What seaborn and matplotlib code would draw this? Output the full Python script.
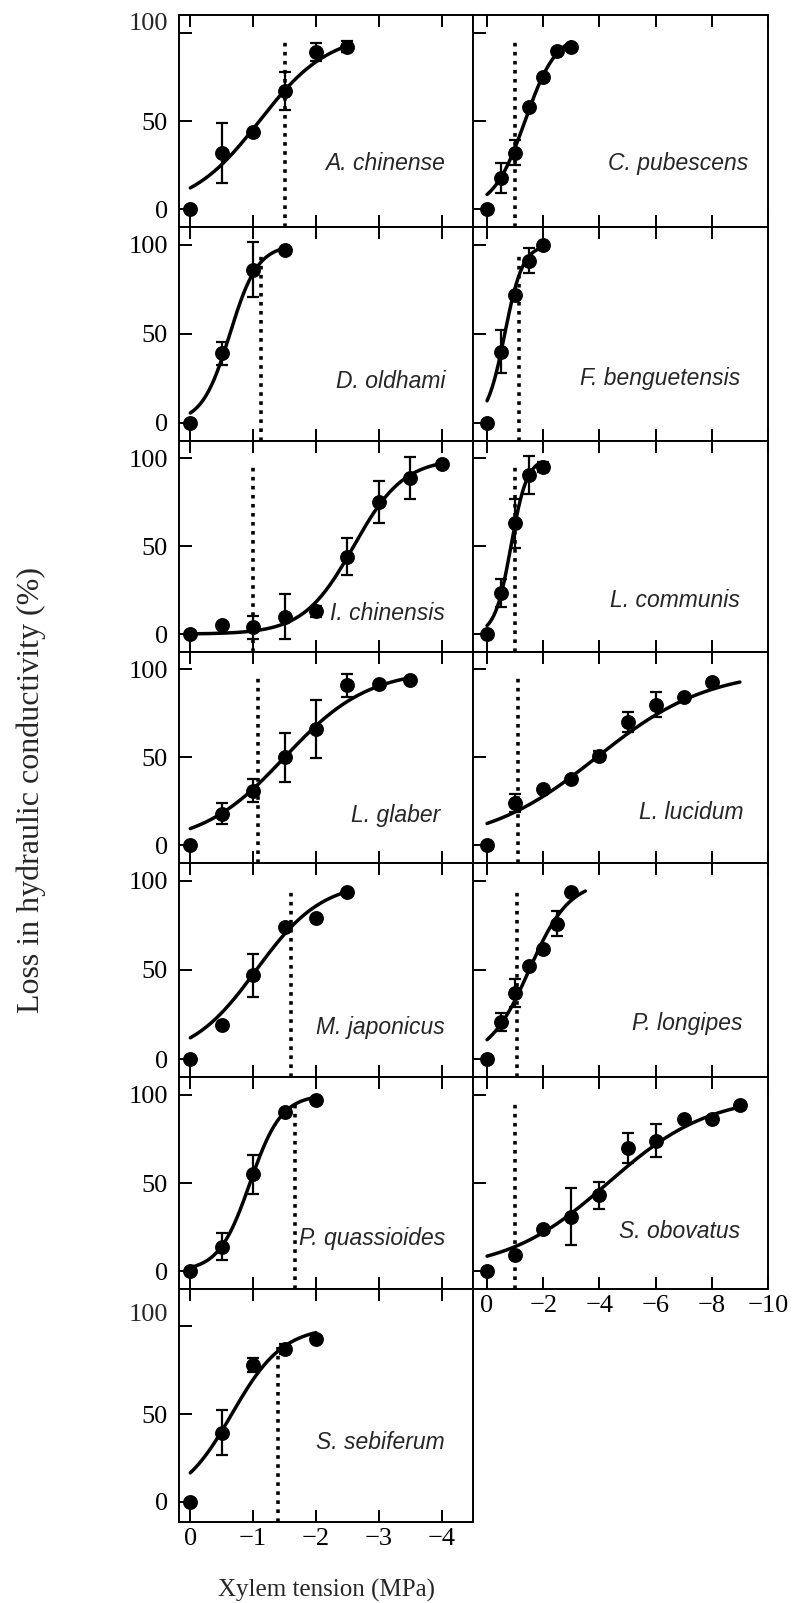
import numpy as np
import pandas as pd
import matplotlib
matplotlib.use("Agg")
import matplotlib.pyplot as plt
import matplotlib.transforms as mtransforms
import seaborn as sns

# ---------------- data ----------------
# left column species (x axis 0 .. -4 MPa)
x_achinense = [0, -0.5, -1, -1.5, -2, -2.5]
y_achinense = [0, 32, 44, 67, 89, 92]
e_achinense = [0, 17, 0, 11, 5, 3]

x_doldhami = [0, -0.5, -1, -1.5]
y_doldhami = [0, 39, 86, 97]
e_doldhami = [0, 6.5, 15.5, 0]

x_ichinensis = [0, -0.5, -1, -1.5, -2, -2.5, -3, -3.5, -4]
y_ichinensis = [0, 5, 4, 10, 13, 44, 75, 89, 97]
e_ichinensis = [0, 0, 6.5, 13, 3, 10.5, 12, 12, 0]

x_lglaber = [0, -0.5, -1, -1.5, -2, -2.5, -3, -3.5]
y_lglaber = [0, 18, 31, 50, 66, 91, 91.5, 94]
e_lglaber = [0, 6, 6.5, 14, 16.5, 6.5, 0, 0]

x_mjaponicus = [0, -0.5, -1, -1.5, -2, -2.5]
y_mjaponicus = [0, 19, 47, 74, 79, 94]
e_mjaponicus = [0, 0, 12, 0, 0, 0]

x_pquassioides = [0, -0.5, -1, -1.5, -2]
y_pquassioides = [0, 14, 55, 90, 97]
e_pquassioides = [0, 7.5, 11, 0, 0]

x_ssebiferum = [0, -0.5, -1, -1.5, -2]
y_ssebiferum = [0, 39.5, 78, 87, 93]
e_ssebiferum = [0, 13, 4, 3, 0]

# right column species (x axis 0 .. -10 MPa)
x_cpubescens = [0, -0.5, -1, -1.5, -2, -2.5, -3]
y_cpubescens = [0, 18, 32, 58, 75, 89.5, 92]
e_cpubescens = [0, 8.5, 7, 0, 0, 0, 0]

x_fbenguetensis = [0, -0.5, -1, -1.5, -2]
y_fbenguetensis = [0, 40, 72, 91, 100]
e_fbenguetensis = [0, 12, 0, 7, 0]

x_lcommunis = [0, -0.5, -1, -1.5, -2]
y_lcommunis = [0, 23.5, 63, 90.5, 95]
e_lcommunis = [0, 8, 14, 11, 3]

x_llucidum = [0, -1, -2, -3, -4, -5, -6, -7, -8]
y_llucidum = [0, 24, 32, 37.5, 51, 70, 80, 84, 93]
e_llucidum = [0, 5, 0, 0, 2.5, 5.5, 7, 0, 0]

x_plongipes = [0, -0.5, -1, -1.5, -2, -2.5, -3]
y_plongipes = [0, 21, 37, 52, 62, 76, 94]
e_plongipes = [0, 5, 8, 0, 0, 7, 0]

x_sobovatus = [0, -1, -2, -3, -4, -5, -6, -7, -8, -9]
y_sobovatus = [0, 9, 24, 31, 43, 70, 74, 86, 86, 94]
e_sobovatus = [0, 0, 0, 16, 7.5, 8.5, 9.3, 0, 0, 0]

left_names = ["A. chinense", "D. oldhami", "I. chinensis", "L. glaber",
              "M. japonicus", "P. quassioides", "S. sebiferum"]
right_names = ["C. pubescens", "F. benguetensis", "L. communis",
               "L. lucidum", "P. longipes", "S. obovatus"]

# fitted vulnerability curve parameters (tension at 50 % loss, slope, end)
left_p50 = [1.1, 0.63, 2.6, 1.5, 1.05, 0.95, 0.66]
left_slope = [1.8, 4.5, 2.5, 1.5, 1.9, 4.0, 2.45]
left_end = [2.5, 1.5, 4.0, 3.5, 2.5, 2.0, 2.0]
right_p50 = [1.35, 0.63, 0.85, 3.9, 1.5, 4.3]
right_slope = [1.77, 3.1, 3.5, 0.5, 1.4, 0.55]
right_end = [3.0, 2.0, 1.95, 9.0, 3.5, 9.0]

# dotted reference lines (MPa) and their upper ends (%)
left_dotted = [-1.5, -1.12, -1.0, -1.07, -1.6, -1.67, -1.4]
right_dotted = [-1.0, -1.14, -1.0, -1.1, -1.08, -1.0]
left_dotted_top = [97, 96, 96, 95, 95, 95.5, 88]
right_dotted_top = [95, 96, 95.6, 95.3, 95.4, 95.6]

left_ticks = [0, -1, -2, -3, -4]
left_ticklabels = ["0", "\u22121", "\u22122", "\u22123", "\u22124"]
right_ticks = [0, -2, -4, -6, -8, -10]
right_ticklabels = ["0", "\u22122", "\u22124", "\u22126", "\u22128", "\u221210"]
y_ticks = [0, 50, 100]
y_ticklabels = ["0", "50", "100"]

left_data = [(x_achinense, y_achinense, e_achinense),
             (x_doldhami, y_doldhami, e_doldhami),
             (x_ichinensis, y_ichinensis, e_ichinensis),
             (x_lglaber, y_lglaber, e_lglaber),
             (x_mjaponicus, y_mjaponicus, e_mjaponicus),
             (x_pquassioides, y_pquassioides, e_pquassioides),
             (x_ssebiferum, y_ssebiferum, e_ssebiferum)]
right_data = [(x_cpubescens, y_cpubescens, e_cpubescens),
              (x_fbenguetensis, y_fbenguetensis, e_fbenguetensis),
              (x_lcommunis, y_lcommunis, e_lcommunis),
              (x_llucidum, y_llucidum, e_llucidum),
              (x_plongipes, y_plongipes, e_plongipes),
              (x_sobovatus, y_sobovatus, e_sobovatus)]

# ---------------- style ----------------
sns.set_theme(style="ticks")
plt.rcParams['font.family'] = ['Liberation Serif', 'DejaVu Serif']
plt.rcParams['axes.linewidth'] = 1.4
plt.rcParams['axes.edgecolor'] = 'black'

W, H = 802, 1603
fig = plt.figure(figsize=(W / 100, H / 100), dpi=100)
fig.patch.set_facecolor('white')

# layout in pixels
left_x0, left_x1 = 179, 473
right_x0, right_x1 = 473, 768
row_edges = [15, 227, 440.7, 651.7, 863, 1077, 1289, 1522]

left_ylims = [(-10, 110)] * 6 + [(-11.4, 121.2)]
# vertical shift (px) of the "100" label in panels where it sits above its tick
left_top_label_shift = [11, 0, 0, 0, 0, 0, 14]

left_label_pos = [(0.905, 0.30), (0.905, 0.275), (0.905, 0.18), (0.89, 0.227),
                  (0.905, 0.23), (0.905, 0.24), (0.905, 0.343)]
right_label_pos = [(0.932, 0.30), (0.905, 0.29), (0.905, 0.245), (0.917, 0.237),
                   (0.912, 0.25), (0.905, 0.27)]


def make_ax(x0, x1, y0, y1):
    return fig.add_axes([x0 / W, 1 - y1 / H, (x1 - x0) / W, (y1 - y0) / H])


def draw_panel(ax, data, name, p50, slope, end, dotted, dtop, xlim, ylim, ticks,
               ticklabels, show_xlabels, show_ylabels, label_pos, top_shift=0):
    xs, ys, es = data
    df = pd.DataFrame({"x": xs, "y": ys, "err": es})
    t = np.linspace(0, end, 200)
    curve = pd.DataFrame({"x": -t, "y": 100 / (1 + np.exp(-slope * (t - p50)))})
    sns.lineplot(data=curve, x="x", y="y", ax=ax, color="black", lw=2.5,
                 sort=False, zorder=2)
    ax.vlines(dotted, ylim[0], dtop, colors="black", linestyles=(0, (1, 1.5)),
              lw=2.6, zorder=1)
    de = df[df.err > 0]
    ax.errorbar(de.x, de.y, yerr=de.err, fmt="none", ecolor="black",
                elinewidth=1.6, capsize=4.5, capthick=1.6, zorder=2.5)
    sns.scatterplot(data=df, x="x", y="y", ax=ax, color="black", s=115,
                    edgecolor="black", linewidth=0, zorder=3, legend=False)
    ax.set_xlim(*xlim)
    ax.set_ylim(*ylim)
    ax.set_xticks(ticks)
    ax.set_yticks(y_ticks)
    ax.set_xlabel("")
    ax.set_ylabel("")
    if show_xlabels:
        ax.set_xticklabels(ticklabels, fontsize=19)
    else:
        ax.set_xticklabels([])
    if show_ylabels:
        labs = list(y_ticklabels)
        if top_shift:
            labs[-1] = ""
        ax.set_yticklabels(labs, fontsize=19)
        if top_shift:
            tr = ax.get_yaxis_transform() + mtransforms.ScaledTranslation(
                -11 / 100, top_shift / 100, fig.dpi_scale_trans)
            ax.text(0, 100, y_ticklabels[-1], transform=tr, ha='right',
                    va='center_baseline', fontsize=19)
    else:
        ax.set_yticklabels([])
    ax.tick_params(axis='x', which='both', direction='in', top=True, bottom=True,
                   length=8.5, width=1.4, pad=4, colors='black',
                   labelbottom=show_xlabels)
    ax.tick_params(axis='y', direction='in', left=True, right=False,
                   length=9, width=1.4, pad=8, colors='black',
                   labelleft=show_ylabels)
    for s in ax.spines.values():
        s.set_visible(True)
        s.set_linewidth(1.4)
        s.set_color('black')
    ax.set_facecolor('white')
    ax.text(label_pos[0], label_pos[1], name, transform=ax.transAxes,
            ha='right', va='center', fontstyle='italic', fontsize=16.5,
            family=['Liberation Sans', 'DejaVu Sans'])


for i in range(7):
    ax = make_ax(left_x0, left_x1, row_edges[i], row_edges[i + 1])
    draw_panel(ax, left_data[i], left_names[i], left_p50[i], left_slope[i],
               left_end[i], left_dotted[i], left_dotted_top[i], (0.18, -4.5),
               left_ylims[i], left_ticks, left_ticklabels, i == 6, True,
               left_label_pos[i], left_top_label_shift[i])

for i in range(6):
    ax = make_ax(right_x0, right_x1, row_edges[i], row_edges[i + 1])
    draw_panel(ax, right_data[i], right_names[i], right_p50[i], right_slope[i],
               right_end[i], right_dotted[i], right_dotted_top[i], (0.5, -10),
               (-10, 110), right_ticks, right_ticklabels, i == 5, False,
               right_label_pos[i])

fig.text(31 / W, 1 - 790 / H, "Loss in hydraulic conductivity (%)",
         rotation=90, ha='center', va='center', fontsize=23)
fig.text(326 / W, 1 - 1590 / H, "Xylem tension (MPa)",
         ha='center', va='center', fontsize=18)

fig.savefig("out.png", dpi=100, facecolor='white')
